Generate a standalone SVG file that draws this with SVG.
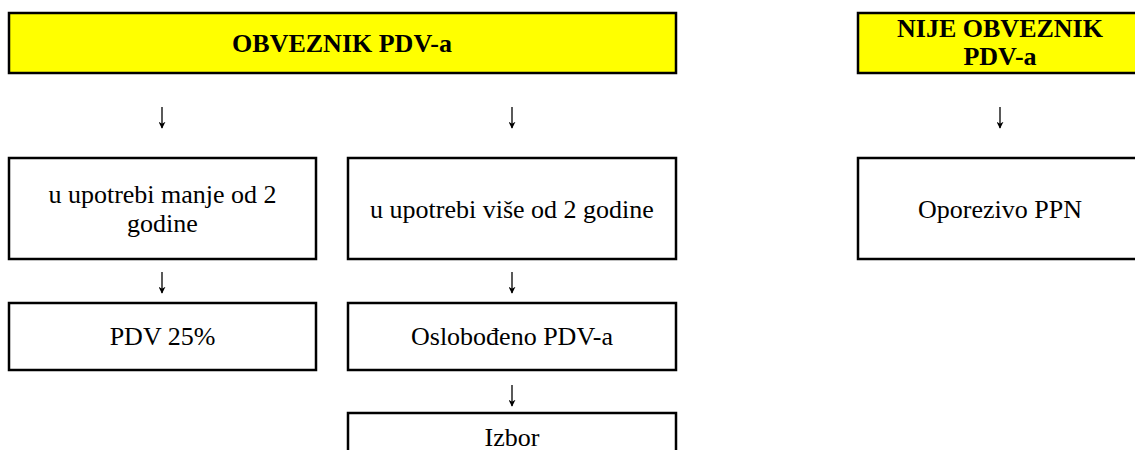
<svg xmlns="http://www.w3.org/2000/svg" width="1135" height="450" viewBox="0 0 1135 450" font-family="'Liberation Serif', Tinos, 'Times New Roman', 'DejaVu Serif', serif">
<style>
.box{fill:#fff;stroke:#000;stroke-width:2.5}
.yel{fill:#ffff00;stroke:#000;stroke-width:2.5}
text{font-family:"Liberation Serif",Tinos,"Times New Roman","DejaVu Serif",serif;font-size:26px;font-weight:400;fill:#000;text-anchor:middle}
text.b{font-weight:700}
.arrow{stroke:#000;stroke-width:1.3;fill:none}
</style>
<defs>
<marker id="ah" viewBox="0 0 10 10" refX="9" refY="5" markerWidth="7" markerHeight="7" markerUnits="userSpaceOnUse" orient="auto">
<path d="M0,0 L10,5 L0,10 L3,5 Z" fill="#000"/>
</marker>
</defs>
<rect width="1135" height="450" fill="#fff"/>
<g id="connectors">
<line class="arrow" x1="162" y1="107" x2="162" y2="128" marker-end="url(#ah)"/>
<line class="arrow" x1="512" y1="107" x2="512" y2="128" marker-end="url(#ah)"/>
<line class="arrow" x1="1000" y1="107" x2="1000" y2="128" marker-end="url(#ah)"/>
<line class="arrow" x1="162" y1="272" x2="162" y2="293" marker-end="url(#ah)"/>
<line class="arrow" x1="512" y1="272" x2="512" y2="293" marker-end="url(#ah)"/>
<line class="arrow" x1="512" y1="385" x2="512" y2="406" marker-end="url(#ah)"/>
</g>
<g id="obveznik">
<rect class="yel" x="9" y="13" width="667" height="60"/>
<text class="b" x="342" y="52">OBVEZNIK PDV-a</text>
</g>
<g id="nije-obveznik">
<rect class="yel" x="858" y="13" width="300" height="60"/>
<text class="b" x="1000" y="37">NIJE OBVEZNIK</text>
<text class="b" x="1000" y="65">PDV-a</text>
</g>
<g id="manje-od-2">
<rect class="box" x="9" y="158" width="307" height="101"/>
<text x="162.5" y="203">u upotrebi manje od 2</text>
<text x="162.5" y="232">godine</text>
</g>
<g id="vise-od-2">
<rect class="box" x="348" y="158" width="328" height="101"/>
<text x="512" y="218">u upotrebi više od 2 godine</text>
</g>
<g id="oporezivo-ppn">
<rect class="box" x="858" y="158" width="300" height="101"/>
<text x="1000" y="218">Oporezivo PPN</text>
</g>
<g id="pdv-25">
<rect class="box" x="9" y="303" width="307" height="67"/>
<text x="162.5" y="345">PDV 25%</text>
</g>
<g id="oslobodeno">
<rect class="box" x="348" y="303" width="328" height="67"/>
<text x="512" y="345">Oslobođeno PDV-a</text>
</g>
<g id="izbor">
<rect class="box" x="348" y="413" width="328" height="60"/>
<text x="512" y="446">Izbor</text>
</g>
</svg>
